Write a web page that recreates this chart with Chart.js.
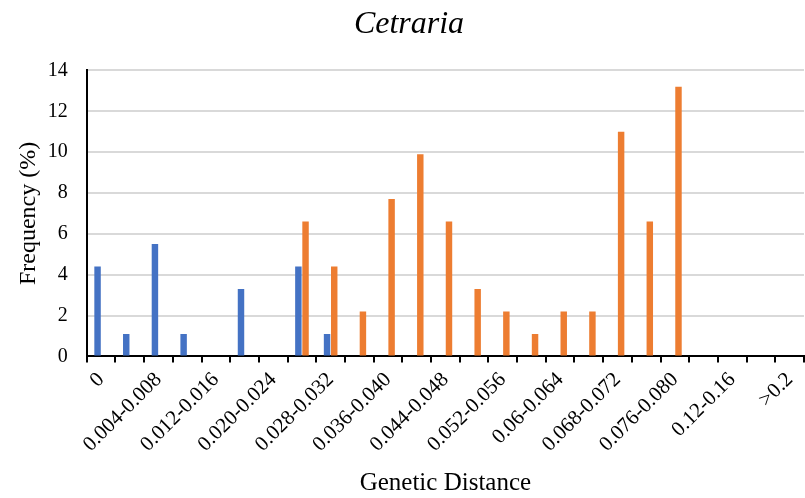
<!DOCTYPE html>
<html>
<head>
<meta charset="utf-8">
<script src="https://cdn.jsdelivr.net/npm/chart.js@4"></script>
<style>
  html, body { margin: 0; padding: 0; background: #fff; }
  #wrap { width: 805px; height: 498px; position: relative; }
</style>
</head>
<body>
<div id="wrap"><canvas id="chart"></canvas></div>
<script>
// categories (distance classes)
const categories = [
    '0', '0.000-0.004', '0.004-0.008', '0.008-0.012', '0.012-0.016', '0.016-0.020',
    '0.020-0.024', '0.024-0.028', '0.028-0.032', '0.032-0.036', '0.036-0.040',
    '0.040-0.044', '0.044-0.048', '0.048-0.052', '0.052-0.056', '0.056-0.06',
    '0.06-0.064', '0.064-0.068', '0.068-0.072', '0.072-0.076', '0.076-0.080',
    '0.08-0.12', '0.12-0.16', '0.16-0.2', '>0.2'
];

// intraspecific (blue) and interspecific (orange) frequencies, %
const blueValues = [4.4, 1.1, 5.5, 1.1, 0, 3.3, 0, 4.4, 1.1, 0, 0, 0, 0, 0, 0, 0, 0, 0, 0, 0, 0, 0, 0, 0, 0];
const orangeValues = [0, 0, 0, 0, 0, 0, 0, 6.6, 4.4, 2.2, 7.7, 9.9, 6.6, 3.3, 2.2, 1.1, 2.2, 2.2, 11.0, 6.6, 13.2, 0, 0, 0, 0];

const yTicks = [0, 2, 4, 6, 8, 10, 12, 14];

const serif = "'Liberation Serif', 'Times New Roman', serif";

new Chart(document.getElementById('chart'), {
    type: 'bar',
    data: {
        labels: categories,
        datasets: [
            { label: 'Intra', data: blueValues, backgroundColor: '#4472C4', categoryPercentage: 0.5, barPercentage: 0.9 },
            { label: 'Inter', data: orangeValues, backgroundColor: '#ED7D31', categoryPercentage: 0.5, barPercentage: 0.9 }
        ]
    },
    options: {
        responsive: true,
        maintainAspectRatio: false,
        animation: false,
        layout: { padding: { left: 14, right: 1, top: 4, bottom: 0 } },
        plugins: {
            legend: { display: false },
            tooltip: { enabled: false },
            title: {
                display: true,
                text: 'Cetraria',
                color: '#000',
                font: { family: serif, size: 32, style: 'italic', weight: 'normal' },
                padding: { top: 1, bottom: 27 }
            }
        },
        scales: {
            x: {
                // axis runs to the right edge like the original
                afterFit: function (axis) { axis.paddingRight = 0; },
                grid: { display: true, drawOnChartArea: false, drawTicks: true, tickLength: 6, color: '#000', lineWidth: 2 },
                border: { display: true, color: '#000', width: 2 },
                ticks: {
                    autoSkip: false,
                    minRotation: 45,
                    maxRotation: 45,
                    color: '#000',
                    padding: 5,
                    font: { family: serif, size: 21 },
                    callback: function (value, index) {
                        return index % 2 === 0 ? categories[index] : '';
                    }
                },
                title: {
                    display: true,
                    text: 'Genetic Distance',
                    color: '#000',
                    font: { family: serif, size: 25 },
                    padding: { top: 6, bottom: 0 }
                }
            },
            y: {
                min: 0,
                max: 14,
                afterBuildTicks: function (axis) {
                    axis.ticks = yTicks.map(v => ({ value: v }));
                },
                grid: { color: '#d9d9d9', lineWidth: 2, drawTicks: false },
                border: { display: true, color: '#000', width: 2 },
                ticks: {
                    color: '#000',
                    padding: 19,
                    font: { family: serif, size: 20 }
                },
                title: {
                    display: true,
                    text: 'Frequency (%)',
                    color: '#000',
                    font: { family: serif, size: 24 },
                    padding: { top: 0, bottom: -14 }
                }
            }
        }
    }
});
</script>
</body>
</html>
